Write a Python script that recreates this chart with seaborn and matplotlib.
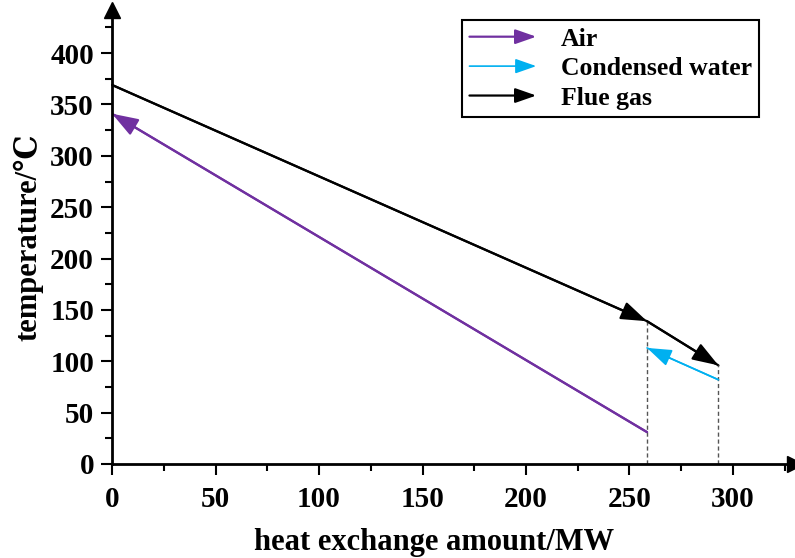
import numpy as np
import pandas as pd
import matplotlib
matplotlib.use('Agg')
import matplotlib.pyplot as plt
import seaborn as sns
from matplotlib.lines import Line2D
from matplotlib.patches import FancyArrowPatch
from matplotlib.legend_handler import HandlerBase
from matplotlib.ticker import MultipleLocator

# 数据
flue_x = [0, 258.5, 293]
flue_y = [369, 139, 96]
air_x = [258.5, 0]
air_y = [31, 341]
water_x = [293, 258.5]
water_y = [82, 113]

series_names = ['Air', 'Condensed water', 'Flue gas']
x_ticks = [0, 50, 100, 150, 200, 250, 300]
y_ticks = [0, 50, 100, 150, 200, 250, 300, 350, 400]

c_air = '#7030A0'
c_water = '#00B0F0'
c_flue = '#000000'

sns.set_style('ticks')
plt.rcParams['font.family'] = ['Liberation Serif', 'DejaVu Serif', 'DejaVu Sans']
plt.rcParams['font.weight'] = 'bold'
for k in ['text.color', 'axes.labelcolor', 'xtick.color', 'ytick.color', 'axes.edgecolor']:
    plt.rcParams[k] = 'black'

fig = plt.figure(figsize=(7.95, 5.58), dpi=100)
ax = fig.add_axes([0.141, 0.1685, 0.859, 0.8136])

df_air = pd.DataFrame({'x': air_x, 'y': air_y})
df_water = pd.DataFrame({'x': water_x, 'y': water_y})
df_flue = pd.DataFrame({'x': flue_x, 'y': flue_y})

sns.lineplot(data=df_air, x='x', y='y', sort=False, color=c_air, lw=1.6, ax=ax, label=series_names[0])
sns.lineplot(data=df_water, x='x', y='y', sort=False, color=c_water, lw=1.2, ax=ax, label=series_names[1])
sns.lineplot(data=df_flue, x='x', y='y', sort=False, color=c_flue, lw=1.6, ax=ax, label=series_names[2])

HEAD = '-|>,head_length=0.8,head_width=0.28'


def head(x0, y0, x1, y1, color, lw, ms):
    ax.annotate('', xy=(x1, y1), xytext=(x0, y0),
                arrowprops=dict(arrowstyle=HEAD, color=color, lw=lw,
                                mutation_scale=ms, shrinkA=0, shrinkB=0))


head(air_x[0], air_y[0], air_x[1], air_y[1], c_air, 1.6, 20)
head(water_x[0], water_y[0], water_x[1], water_y[1], c_water, 1.2, 19)
head(flue_x[0], flue_y[0], flue_x[1], flue_y[1], c_flue, 1.6, 20)
head(flue_x[1], flue_y[1], flue_x[2], flue_y[2], c_flue, 1.6, 20)

# 虚线
for xv, yv in zip(flue_x[1:], flue_y[1:]):
    ax.plot([xv, xv], [0, yv], ls=(0, (3, 2)), color='#555555', lw=1)

ax.set_xlim(0, 330)
ax.set_ylim(0, 442)
ax.set_xticks(x_ticks)
ax.set_yticks(y_ticks)
ax.xaxis.set_minor_locator(MultipleLocator(25))
ax.yaxis.set_minor_locator(MultipleLocator(25))
ax.tick_params(axis='both', which='major', length=8, width=1.5, labelsize=21, direction='out')
ax.tick_params(axis='both', which='minor', length=5, width=1.5, direction='out')
ax.tick_params(axis='x', pad=8)
ax.tick_params(axis='y', pad=5)
for lab in ax.get_xticklabels() + ax.get_yticklabels():
    lab.set_fontweight('bold')

sns.despine(ax=ax)
ax.spines['left'].set_linewidth(2)
ax.spines['bottom'].set_linewidth(2)
ax.plot(1, 0, '>', color='k', ms=11, transform=ax.transAxes, clip_on=False)
ax.plot(0, 1, '^', color='k', ms=11, transform=ax.transAxes, clip_on=False)

ax.set_xlabel('heat exchange amount/MW', fontsize=22, fontweight='bold')
ax.set_ylabel('temperature/℃', fontsize=22, fontweight='bold')
ax.xaxis.set_label_coords(0.471, -0.14)
ax.yaxis.set_label_coords(-0.1, 0.5)


class ArrowHandler(HandlerBase):
    def create_artists(self, legend, orig_handle, xdescent, ydescent,
                       width, height, fontsize, trans):
        y = height / 2 - ydescent
        arr = FancyArrowPatch((-xdescent, y), (-xdescent + width, y),
                              arrowstyle=HEAD, mutation_scale=16,
                              color=orig_handle.get_color(),
                              lw=orig_handle.get_linewidth(),
                              shrinkA=0, shrinkB=0, transform=trans)
        return [arr]


handles, labels = ax.get_legend_handles_labels()
leg = ax.legend(handles, labels, loc='upper left', bbox_to_anchor=(0.512, 0.978),
                borderaxespad=0, fancybox=False, edgecolor='black', framealpha=1,
                prop={'size': 18.5, 'weight': 'bold'}, handlelength=2.6,
                labelspacing=0.25, handletextpad=0.95, borderpad=0.3,
                handler_map={Line2D: ArrowHandler()})
leg.get_frame().set_linewidth(1.5)

plt.savefig('out.png', dpi=100)
